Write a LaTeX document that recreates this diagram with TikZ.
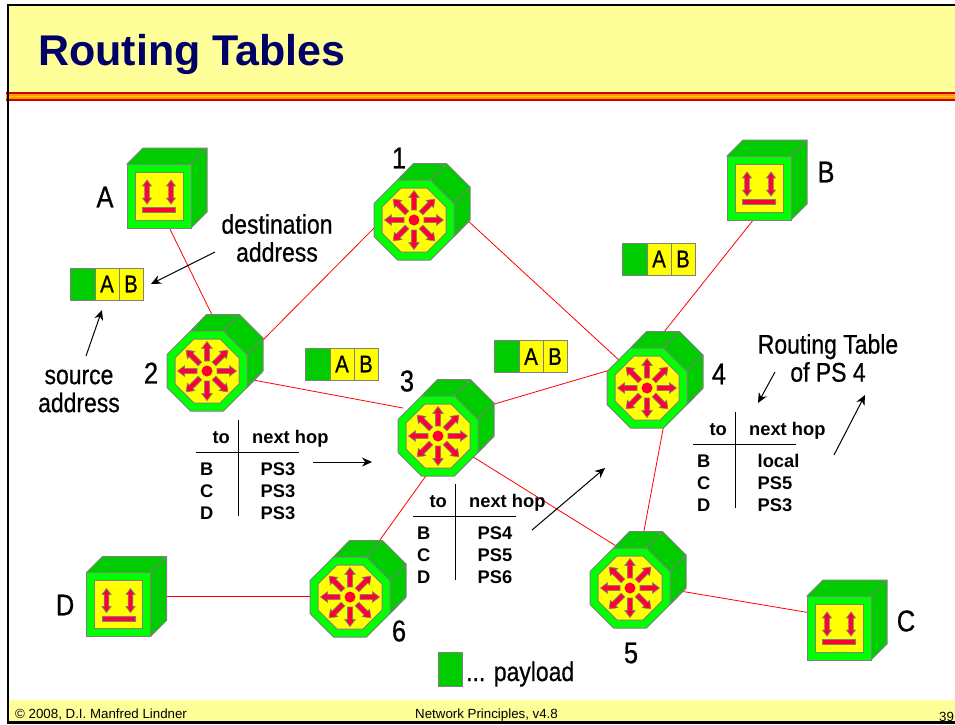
\documentclass[tikz,border=0pt]{standalone}
\usepackage{fontspec}
\setmainfont{Liberation Sans}
\newfontfamily\narrowfont[FakeStretch=0.85,FakeBold=0.6]{Liberation Sans}
\usetikzlibrary{positioning,arrows.meta}

\definecolor{slideyellow}{HTML}{FFFF99}
\definecolor{titlenavy}{HTML}{000066}
\definecolor{devgrey}{HTML}{808080}
\definecolor{devgreen}{HTML}{00FF00}
\definecolor{devdark}{HTML}{00CC00}
\definecolor{devyellow}{HTML}{FFFF00}
\definecolor{devred}{HTML}{FF0033}
\definecolor{stripedark}{HTML}{CC0000}
\definecolor{stripeorange}{HTML}{FF9900}
\definecolor{stripeyellow}{HTML}{FFCC00}

\tikzset{
  link/.style={draw=red,line width=0.8pt},
  callout/.style={draw=black,line width=1pt,-{Stealth[length=10pt,width=9pt]}},
  tableline/.style={draw=black,line width=1pt},
  devshape/.style={draw=devgrey,line width=1pt,line join=miter},
  marker/.style={draw=devgrey,line width=0.7pt,fill=devred},
  biglabel/.style={font=\narrowfont\fontsize{30}{30}\selectfont,inner sep=0pt},
  textlabel/.style={font=\narrowfont\fontsize{27}{28}\selectfont,inner sep=0pt,align=center},
  tabletext/.style={font=\bfseries\fontsize{18.3}{18}\selectfont,inner sep=0pt,anchor=base west},
  tablehead/.style={font=\bfseries\fontsize{18.3}{18}\selectfont,inner sep=0pt},
  footertext/.style={font=\fontsize{13.3}{14}\selectfont,inner sep=0pt,anchor=base west},
  payloadbox/.style={draw=devgrey,line width=1pt,fill=devdark,minimum width=25pt,minimum height=32pt,inner sep=0pt,outer sep=0pt},
  fieldbox/.style={draw=devgrey,line width=1pt,fill=devyellow,minimum width=24pt,minimum height=32pt,inner sep=0pt,outer sep=0pt,font=\narrowfont\fontsize{24}{24}\selectfont},
  router/.pic={
    \path[devshape,fill=devdark] (-16.5,-40) -- (-0.5,-56.5) -- (32.5,-56.5) -- (56,-33) -- (56,0) -- (40,16.5) -- cycle;
    \path[devshape] (16.5,-40) -- (32.5,-56.5) (40,-16.5) -- (56,-33) (40,16.5) -- (56,0);
    \path[devshape,fill=devgreen] (-16.5,-40) -- (16.5,-40) -- (40,-16.5) -- (40,16.5) -- (16.5,40) -- (-16.5,40) -- (-40,16.5) -- (-40,-16.5) -- cycle;
    \path[devshape,fill=devyellow] (-13,-32) -- (13,-32) -- (32,-13) -- (32,13) -- (13,32) -- (-13,32) -- (-32,13) -- (-32,-13) -- cycle;
    \foreach \ang in {0,45,...,315} {
      \path[marker,rotate=\ang] (10,-2.6) -- (22.5,-2.6) -- (22.5,-5.2) -- (29.5,0) -- (22.5,5.2) -- (22.5,2.6) -- (10,2.6) -- cycle;
    }
    \path[fill=devred] (0,0) circle (5.5);
  },
  host/.pic={
    \path[devshape,fill=devdark] (-32,-32) -- (-16,-48) -- (48,-48) -- (48,16) -- (32,32) -- cycle;
    \path[devshape] (32,-32) -- (48,-48);
    \path[devshape,fill=devgreen] (-32,-32) rectangle (32,32);
    \path[devshape,fill=devyellow] (-24,-24) rectangle (24,24);
    \foreach \off in {-12,12} {
      \path[marker,xshift=\off pt] (0,-16) -- (4.5,-10) -- (2.3,-10) -- (2.3,2) -- (4.5,2) -- (0,8) -- (-4.5,2) -- (-2.3,2) -- (-2.3,-10) -- (-4.5,-10) -- cycle;
    }
    \path[marker] (-16.5,11.5) rectangle (16.5,16.5);
  }
}

\newcommand{\routingtable}[6]{
  \coordinate (#1) at (#2,#3);
  \path[tableline] ([shift={(0,-32)}]#1) -- ([shift={(0,64)}]#1);
  \path[tableline] ([shift={(-42,0)}]#1) -- ([shift={(61,0)}]#1);
  \node[tablehead,anchor=base east] (#1to) at ([shift={(-8,-9)}]#1) {to};
  \node[tablehead,anchor=base west] (#1hop) at ([shift={(14,-9)}]#1) {next hop};
  \node[tabletext] (#1b) at ([shift={(-38,23)}]#1) {B};
  \node[tabletext] (#1c) at ([shift={(-38,45)}]#1) {C};
  \node[tabletext] (#1d) at ([shift={(-38,67)}]#1) {D};
  \node[tabletext] (#1pb) at ([shift={(22.5,23)}]#1) {#4};
  \node[tabletext] (#1pc) at ([shift={(22.5,45)}]#1) {#5};
  \node[tabletext] (#1pd) at ([shift={(22.5,67)}]#1) {#6};
}

\newcommand{\packet}[3]{
  \node[payloadbox,anchor=north west] (#1pay) at (#2,#3) {};
  \node[fieldbox,right=0pt of #1pay] (#1a) {A};
  \node[fieldbox,right=0pt of #1a] (#1b) {B};
}

\begin{document}
\begin{tikzpicture}[x=1pt,y=-1pt]
\useasboundingbox (0,0) rectangle (955,724);
\fill[white] (0,0) rectangle (955,724);

\fill[slideyellow] (7,5) rectangle (955,92);
\fill[slideyellow] (7,700) rectangle (955,722);
\fill[stripedark] (6,92) rectangle (955,100.5);
\fill[stripeorange] (6,93.5) rectangle (955,99);
\fill[stripeyellow] (6,95.5) rectangle (955,97);
\draw[black,line width=2pt] (7.5,724) -- (7.5,5) -- (955,5);
\draw[black,line width=2.5pt] (7.5,722.7) -- (955,722.7);

\node[font=\bfseries\fontsize{43}{43}\selectfont,text=titlenavy,inner sep=0pt,anchor=base west] (title) at (38,65) {Routing Tables};

\coordinate (hostA) at (159,196);
\coordinate (hostB) at (759,188);
\coordinate (hostC) at (839,628);
\coordinate (hostD) at (118.5,604.5);
\coordinate (ps1) at (414,220);
\coordinate (ps2) at (207,371);
\coordinate (ps3) at (438,436);
\coordinate (ps4) at (647,388);
\coordinate (ps5) at (630,588);
\coordinate (ps6) at (350,597);

\draw[link] ([shift={(7,25)}]hostA) -- ([shift={(8,-50)}]ps2);
\draw[link] ([shift={(52,-27)}]ps2) -- ([shift={(-36,4)}]ps1);
\draw[link] ([shift={(52,-1)}]ps1) -- ([shift={(-26,-26)}]ps4);
\draw[link] ([shift={(-5,31)}]hostB) -- ([shift={(13,-51)}]ps4);
\draw[link] ([shift={(41,8)}]ps2) -- ([shift={(-35,-28)}]ps3);
\draw[link] ([shift={(53,-31)}]ps3) -- ([shift={(-37,-18)}]ps4);
\draw[link] ([shift={(32,19)}]ps3) -- ([shift={(-9,-39)}]ps5);
\draw[link] ([shift={(-10,37)}]ps3) -- ([shift={(27,-53)}]ps6);
\draw[link] ([shift={(17,36)}]ps4) -- ([shift={(13,-52)}]ps5);
\draw[link] ([shift={(30,-8.5)}]hostD) -- ([shift={(-38,-1)}]ps6);
\draw[link] ([shift={(50,3)}]ps5) -- ([shift={(-28,-15)}]hostC);

\pic at (hostA) {host};
\pic at (hostB) {host};
\pic at (hostC) {host};
\pic at (hostD) {host};
\pic at (ps1) {router};
\pic at (ps2) {router};
\pic at (ps3) {router};
\pic at (ps4) {router};
\pic at (ps5) {router};
\pic at (ps6) {router};

\node[biglabel] (labelA) at (105,197) {A};
\node[biglabel] (labelB) at (826,172) {B};
\node[biglabel] (labelC) at (906,621) {C};
\node[biglabel] (labelD) at (65,605) {D};
\node[biglabel] (label1) at (399,158) {1};
\node[biglabel] (label2) at (151,373) {2};
\node[biglabel] (label3) at (407,381) {3};
\node[biglabel] (label4) at (719,374) {4};
\node[biglabel] (label5) at (631,653) {5};
\node[biglabel] (label6) at (399,631) {6};

\packet{pkta}{70}{268}
\packet{pktb}{305}{348}
\packet{pktc}{494}{340.5}
\packet{pktd}{622}{243}

\node[textlabel] (dest) at (277,238) {destination\\address};
\node[textlabel] (source) at (79,391) {source\\address};
\node[textlabel] (ptable) at (828,358) {Routing Table\\of PS 4};

\coordinate (destfrom) at (215,252);
\coordinate (destto) at (151,284);
\coordinate (sourcefrom) at (86,356);
\coordinate (sourceto) at (102,310);
\coordinate (hopfrom) at (313,462);
\coordinate (hopto) at (372,462);
\coordinate (nextfrom) at (532,530);
\coordinate (nextto) at (605,468);
\coordinate (ptabledown) at (775,372);
\coordinate (ptablegoal) at (758,403);
\coordinate (ptableup) at (834,455);
\coordinate (ptabletip) at (865,395);

\draw[callout] (destfrom) -- (destto);
\draw[callout] (sourcefrom) -- (sourceto);
\draw[callout] (hopfrom) -- (hopto);
\draw[callout] (nextfrom) -- (nextto);
\draw[callout] (ptabledown) -- (ptablegoal);
\draw[callout] (ptableup) -- (ptabletip);

\routingtable{rta}{238}{452}{PS3}{PS3}{PS3}
\routingtable{rtb}{455}{516}{PS4}{PS5}{PS6}
\routingtable{rtc}{735}{444}{local}{PS5}{PS3}

\node[draw=devgrey,line width=1pt,fill=devdark,minimum width=24pt,minimum height=34pt,inner sep=0pt,anchor=north west] (legend) at (438,652) {};
\node[textlabel,anchor=base west] (legendtext) at (466,681) {... payload};

\node[footertext] (copyright) at (15,718) {© 2008, D.I. Manfred Lindner};
\node[footertext] (course) at (415,718) {Network Principles, v4.8};
\node[footertext] (page) at (939,721) {39};
\end{tikzpicture}
\end{document}
